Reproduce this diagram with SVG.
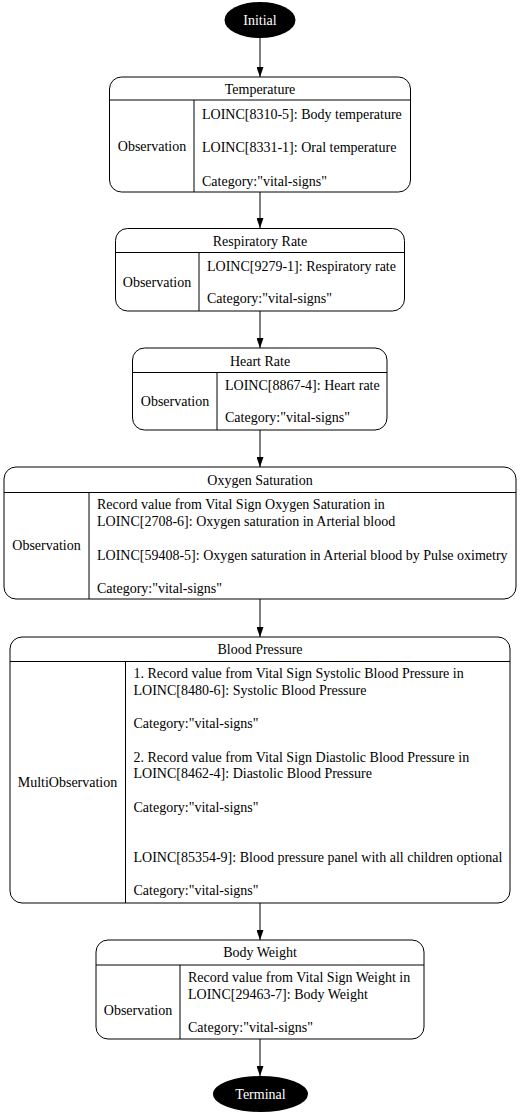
<svg xmlns="http://www.w3.org/2000/svg" width="520" height="1116" viewBox="0 0 520 1116">
<style>
text{font-family:"Liberation Serif","Times New Roman",serif;font-size:14px;fill:#000}
.c{text-anchor:middle}
.w{fill:#fff}
.box{fill:#fff;stroke:#000;stroke-width:1}
.ln{stroke:#000;stroke-width:1;fill:none}
.edge{stroke:#000;stroke-width:1;fill:none}
</style>
<defs>
<marker id="arr" markerWidth="10" markerHeight="7" refX="10" refY="3.5" orient="auto" markerUnits="userSpaceOnUse">
<polygon points="0,0 10,3.5 0,7" fill="#000"/>
</marker>
</defs>
<rect width="520" height="1116" fill="#fff"/>
<g id="connectors">
<line class="edge" x1="260" y1="38" x2="260" y2="77" marker-end="url(#arr)"/>
<line class="edge" x1="260" y1="192" x2="260" y2="228" marker-end="url(#arr)"/>
<line class="edge" x1="260" y1="311" x2="260" y2="348" marker-end="url(#arr)"/>
<line class="edge" x1="260" y1="430" x2="260" y2="467" marker-end="url(#arr)"/>
<line class="edge" x1="260" y1="599" x2="260" y2="637" marker-end="url(#arr)"/>
<line class="edge" x1="260" y1="903" x2="260" y2="940" marker-end="url(#arr)"/>
<line class="edge" x1="260" y1="1039" x2="260" y2="1076" marker-end="url(#arr)"/>
</g>
<g id="initial">
<ellipse cx="260" cy="20" rx="35.5" ry="18" fill="#000"/>
<text class="c w" x="260" y="25">Initial</text>
</g>
<g id="temperature">
<rect class="box" x="109.5" y="77" width="301" height="115" rx="12"/>
<line class="ln" x1="109.5" y1="100" x2="410.5" y2="100"/>
<line class="ln" x1="194" y1="100" x2="194" y2="192"/>
<text class="c" x="260" y="94">Temperature</text>
<text class="c" x="152" y="151">Observation</text>
<text x="202" y="119">LOINC[8310-5]: Body temperature</text>
<text x="202" y="152">LOINC[8331-1]: Oral temperature</text>
<text x="202" y="186">Category:"vital-signs"</text>
</g>
<g id="respiratory">
<rect class="box" x="115.5" y="228.5" width="289" height="82.5" rx="12"/>
<line class="ln" x1="115.5" y1="252.5" x2="404.5" y2="252.5"/>
<line class="ln" x1="199" y1="252.5" x2="199" y2="311"/>
<text class="c" x="260" y="246">Respiratory Rate</text>
<text class="c" x="157" y="287">Observation</text>
<text x="207" y="271">LOINC[9279-1]: Respiratory rate</text>
<text x="207" y="303">Category:"vital-signs"</text>
</g>
<g id="heartrate">
<rect class="box" x="132.5" y="348" width="254.5" height="82" rx="12"/>
<line class="ln" x1="132.5" y1="372.5" x2="387" y2="372.5"/>
<line class="ln" x1="217" y1="372.5" x2="217" y2="430"/>
<text class="c" x="260" y="366">Heart Rate</text>
<text class="c" x="175" y="406">Observation</text>
<text x="225" y="390">LOINC[8867-4]: Heart rate</text>
<text x="225" y="422">Category:"vital-signs"</text>
</g>
<g id="oxygen">
<rect class="box" x="4" y="467" width="512" height="132" rx="12"/>
<line class="ln" x1="4" y1="492.5" x2="516" y2="492.5"/>
<line class="ln" x1="89" y1="492.5" x2="89" y2="599"/>
<text class="c" x="260" y="485">Oxygen Saturation</text>
<text class="c" x="46.5" y="550">Observation</text>
<text x="97" y="509">Record value from Vital Sign Oxygen Saturation in</text>
<text x="97" y="526">LOINC[2708-6]: Oxygen saturation in Arterial blood</text>
<text x="97" y="560">LOINC[59408-5]: Oxygen saturation in Arterial blood by Pulse oximetry</text>
<text x="97" y="593">Category:"vital-signs"</text>
</g>
<g id="bloodpressure">
<rect class="box" x="10" y="637" width="500" height="266" rx="12"/>
<line class="ln" x1="10" y1="661.5" x2="510" y2="661.5"/>
<line class="ln" x1="125.5" y1="661.5" x2="125.5" y2="903"/>
<text class="c" x="260" y="654">Blood Pressure</text>
<text class="c" x="67.5" y="787">MultiObservation</text>
<text x="133.5" y="678">1. Record value from Vital Sign Systolic Blood Pressure in</text>
<text x="133.5" y="695">LOINC[8480-6]: Systolic Blood Pressure</text>
<text x="133.5" y="728">Category:"vital-signs"</text>
<text x="133.5" y="762">2. Record value from Vital Sign Diastolic Blood Pressure in</text>
<text x="133.5" y="778">LOINC[8462-4]: Diastolic Blood Pressure</text>
<text x="133.5" y="812">Category:"vital-signs"</text>
<text x="133.5" y="862">LOINC[85354-9]: Blood pressure panel with all children optional</text>
<text x="133.5" y="895">Category:"vital-signs"</text>
</g>
<g id="bodyweight">
<rect class="box" x="96" y="940" width="328" height="99" rx="12"/>
<line class="ln" x1="96" y1="965" x2="424" y2="965"/>
<line class="ln" x1="180" y1="965" x2="180" y2="1039"/>
<text class="c" x="260" y="957">Body Weight</text>
<text class="c" x="138" y="1015">Observation</text>
<text x="188" y="982">Record value from Vital Sign Weight in</text>
<text x="188" y="999">LOINC[29463-7]: Body Weight</text>
<text x="188" y="1032">Category:"vital-signs"</text>
</g>
<g id="terminal">
<ellipse cx="260.5" cy="1094" rx="47.5" ry="18" fill="#000"/>
<text class="c w" x="260.5" y="1099">Terminal</text>
</g>
</svg>
